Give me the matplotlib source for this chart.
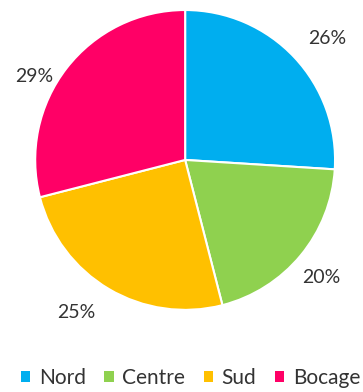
import matplotlib
matplotlib.use("Agg")
import matplotlib.pyplot as plt
import numpy as np
from matplotlib.patches import Patch

categories = ["Nord", "Centre", "Sud", "Bocage"]
values = [26, 20, 25, 29]
colors = ["#00AEEF", "#8FD14F", "#FFC000", "#FF0066"]

# label placement tweaks (angle shift in degrees, radial distance)
label_shift = [-2.7, -1.1, -5.1, 8.8]
label_dist = [1.25, 1.2, 1.25, 1.15]

plt.rcParams['font.family'] = ['Lato', 'DejaVu Sans']

fig = plt.figure(figsize=(3.63, 3.92), dpi=100)
ax = fig.add_axes([0.51 - 0.413, 0.592 - 0.3825, 0.826, 0.765])
wedges, texts, autotexts = ax.pie(
    values, colors=colors, startangle=90, counterclock=False,
    autopct=lambda p: f"{p:.0f}%", pctdistance=1.23,
    wedgeprops=dict(edgecolor="white", linewidth=1.5),
    textprops=dict(fontsize=14, color="#333333"))
for w, t, da, d in zip(wedges, autotexts, label_shift, label_dist):
    mid = np.deg2rad((w.theta1 + w.theta2) / 2 + da)
    t.set_position((d * np.cos(mid), d * np.sin(mid)))
ax.set_xlim(-1, 1)
ax.set_ylim(-1, 1)
ax.set_aspect("equal")

handles = [Patch(facecolor=c, label=l) for c, l in zip(colors, categories)]
fig.legend(handles=handles, loc="center", bbox_to_anchor=(0.525, 0.035), ncol=4,
           frameon=False, fontsize=15, handlelength=0.45, handleheight=0.45,
           handletextpad=0.4, columnspacing=0.9, labelcolor="#333333")
fig.savefig("out.png", dpi=100)
